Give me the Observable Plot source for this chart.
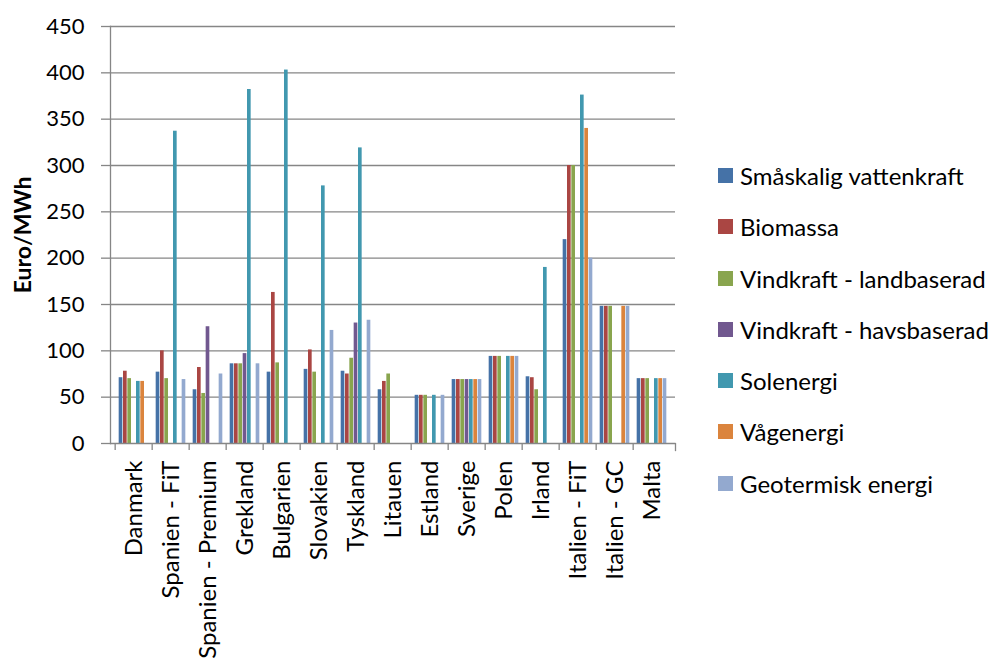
<!DOCTYPE html>
<html><head><meta charset="utf-8">
<script src="https://cdn.jsdelivr.net/npm/d3@7"></script>
<script src="https://cdn.jsdelivr.net/npm/@observablehq/plot@0.6"></script>
<style>
body{margin:0;background:#fff;}
#wrap{position:relative;width:995px;height:664px;font-family:Lato,sans-serif;overflow:hidden;}
#legend{position:absolute;left:718px;top:0;}
.row{position:absolute;left:0;display:flex;align-items:center;height:30px;white-space:nowrap;font-size:24px;color:#000;font-family:Lato,sans-serif;}
.sw{width:15px;height:15px;margin-right:7px;flex:none;}
[aria-label="y-axis label"]{font-weight:700;font-size:23px;}
</style></head><body><div id="wrap"><div id="legend"></div></div>
<script>
const categories = ["Danmark","Spanien - FiT","Spanien - Premium","Grekland","Bulgarien","Slovakien","Tyskland","Litauen","Estland","Sverige","Polen","Irland","Italien - FiT","Italien - GC","Malta"];
const seriesNames = ["Småskalig vattenkraft","Biomassa","Vindkraft - landbaserad","Vindkraft - havsbaserad","Solenergi","Vågenergi","Geotermisk energi"];
const smaskaligVattenkraft = [71, 77, 58, 86, 77, 80, 78, 58, 52, 69, 94, 72, 220, 148, 70];
const biomassa            = [78, 100, 82, 86, 163, 101, 75, 67, 52, 69, 94, 71, 300, 148, 70];
const vindLand            = [70, 70, 54, 86, 87, 77, 92, 75, 52, 69, 94, 58, 300, 148, 70];
const vindHav             = [null, null, 126, 97, null, null, 130, null, null, 69, null, null, null, null, null];
const solenergi           = [67, 337, null, 382, 403, 278, 319, null, 52, 69, 94, 190, 376, null, 70];
const vagenergi           = [67, null, null, null, null, null, null, null, null, 69, 94, null, 340, 148, 70];
const geotermisk          = [null, 69, 75, 86, null, 122, 133, null, 52, 69, 94, null, 200, 148, 70];
const colors = ["#4572A7","#AA4643","#89A54E","#71588F","#4198AF","#DB843D","#93A9CF"];
const yTicks = [0, 50, 100, 150, 200, 250, 300, 350, 400, 450];

const seriesValues = [smaskaligVattenkraft, biomassa, vindLand, vindHav, solenergi, vagenergi, geotermisk];

const W = 995, H = 664, mL = 110, mR = 320, mT = 26, mB = 221;
const step = (W - mL - mR) / categories.length;
const bw = 4.33;
const axisGray = "#868686";

const marks = [
  Plot.gridY(yTicks.slice(1), {stroke: axisGray, strokeOpacity: 1, strokeWidth: 1.3})
];
seriesValues.forEach((vals, s) => {
  const data = categories.map((c, i) => ({category: c, value: vals[i], series: seriesNames[s]})).filter(d => d.value != null);
  marks.push(Plot.barY(data, {
    x: "category", y: "value", fill: colors[s],
    dx: (s - 3) * bw, insetLeft: (step - bw) / 2, insetRight: (step - bw) / 2,
    shapeRendering: "geometricPrecision"
  }));
});
marks.push(
  Plot.ruleY([0], {stroke: axisGray, strokeWidth: 1.3}),
  Plot.frame({anchor: "left", stroke: axisGray, strokeWidth: 1.3}),
  Plot.axisY({ticks: yTicks, tickSize: 9, tickPadding: 17, stroke: axisGray, strokeWidth: 1.3, fontSize: 22,
    label: "Euro/MWh", labelAnchor: "center", labelOffset: 96, labelArrow: "none"}),
  Plot.axisX({tickSize: 0, tickPadding: 17, tickRotate: -90, label: null, fontSize: 24}),
  Plot.axisX({tickSize: 7, text: null, dx: -step / 2, stroke: axisGray, strokeWidth: 1.3, label: null}),
  Plot.frame({anchor: "right", insetTop: H - mT - mB, insetBottom: -7, stroke: axisGray, strokeWidth: 1.3})
);

const chart = Plot.plot({
  width: W, height: H,
  marginLeft: mL, marginRight: mR, marginTop: mT, marginBottom: mB,
  style: {fontFamily: "Lato, sans-serif", fontSize: "22px", color: "#000", background: "#fff", overflow: "visible"},
  x: {domain: categories, padding: 0},
  y: {domain: [0, 450]},
  marks
});
document.getElementById("wrap").prepend(chart);

const legend = document.getElementById("legend");
seriesNames.forEach((name, i) => {
  const row = document.createElement("div");
  row.className = "row";
  row.style.top = (175.5 + i * 51.25 - 15) + "px";
  const sw = document.createElement("div");
  sw.className = "sw";
  sw.style.background = colors[i];
  const t = document.createElement("span");
  t.textContent = name;
  row.append(sw, t);
  legend.append(row);
});
</script>
</body></html>
